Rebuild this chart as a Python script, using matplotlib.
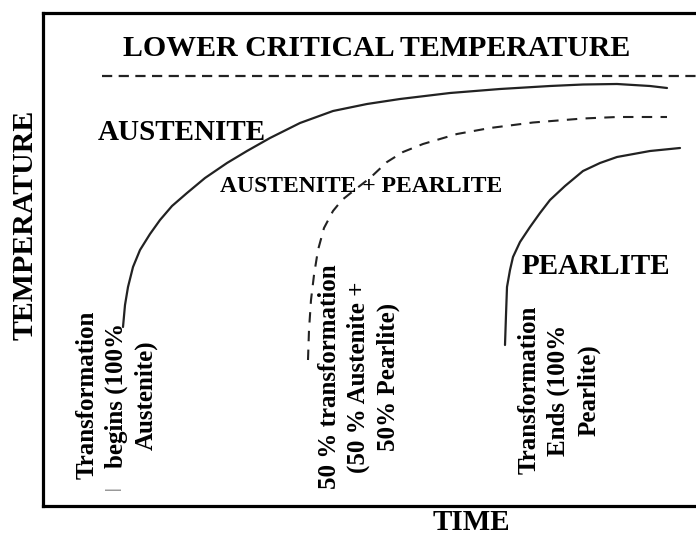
import matplotlib.pyplot as plt

# curve readings (time, temperature) in picture units, temperature grows upward on the page
start_time = [123, 125, 128, 133, 140, 150, 160, 172, 187, 205, 227, 247, 270, 290, 300, 333, 367, 400, 450, 500, 550, 583, 617, 650, 667]
start_temp = [327, 305, 287, 267, 250, 234, 220, 206, 193, 178, 163, 151, 138, 128, 123, 111, 104, 99, 93, 89, 86, 84.5, 84, 86, 88]

half_time = [308, 309, 311, 314, 318, 324, 333, 342, 352, 370, 387, 403, 423, 440, 457, 490, 533, 583, 617, 667]
half_temp = [360, 330, 300, 275, 250, 228, 211, 200, 192, 178, 162, 152, 144, 139, 134, 128, 122.5, 118.5, 117, 117]

end_time = [505, 506, 507, 510, 513, 520, 530, 540, 550, 565, 583, 600, 617, 650, 680]
end_temp = [345, 315, 287, 270, 257, 242, 227, 213, 200, 186, 171, 163, 157, 151, 148]

critical_temp = 76
critical_start = 102

plt.rcParams['font.family'] = ['Liberation Serif', 'DejaVu Serif']
plt.rcParams['font.weight'] = 'bold'

fig = plt.figure(figsize=(6.96, 5.35), dpi=100)
ax = fig.add_axes([43 / 696, 29 / 535, 653 / 696, 493 / 535])
ax.set_xlim(43, 696)
ax.set_ylim(506, 13)

for side in ['left', 'top', 'bottom']:
    ax.spines[side].set_linewidth(2.3)
ax.spines['right'].set_visible(False)
ax.set_xticks([])
ax.set_yticks([])

# curves
ax.plot(start_time, start_temp, color='#222222', lw=1.6, solid_capstyle='round', solid_joinstyle='round')
ax.plot(half_time, half_temp, color='#222222', lw=1.5, linestyle=(0, (5, 4)))
ax.plot(end_time, end_temp, color='#222222', lw=1.6, solid_capstyle='round', solid_joinstyle='round')
ax.axhline(critical_temp, xmin=(critical_start - 43) / 653, xmax=1,
           color='#222222', lw=1.6, linestyle=(0, (4.6, 2.9)))

# labels
ax.text(377, 48, 'LOWER CRITICAL TEMPERATURE', fontsize=21.5, ha='center', va='center')
ax.text(98, 132, 'AUSTENITE', fontsize=21, ha='left', va='center')
ax.text(220, 187, 'AUSTENITE + PEARLITE', fontsize=17, ha='left', va='center')
ax.text(522, 267, 'PEARLITE', fontsize=21, ha='left', va='center')

ax.text(117, 395, 'Transformation\nbegins (100%\nAustenite)', fontsize=18,
        rotation=90, ha='center', va='center', multialignment='center', linespacing=1.35)
ax.text(113, 488, '|', fontsize=12, rotation=90, ha='center', va='center', color='#777777')
ax.text(359, 377, '50 % transformation\n(50 % Austenite +\n50% Pearlite)', fontsize=18,
        rotation=90, ha='center', va='center', multialignment='center', linespacing=1.35)
ax.text(559, 390, 'Transformation\nEnds (100%\nPearlite)', fontsize=18,
        rotation=90, ha='center', va='center', multialignment='center', linespacing=1.35)

ax.text(25, 225, 'TEMPERATURE', fontsize=21.5, rotation=90, ha='center', va='center', clip_on=False)
ax.text(471, 522, 'TIME', fontsize=21, ha='center', va='center', clip_on=False)

fig.savefig('out.png', dpi=100)
